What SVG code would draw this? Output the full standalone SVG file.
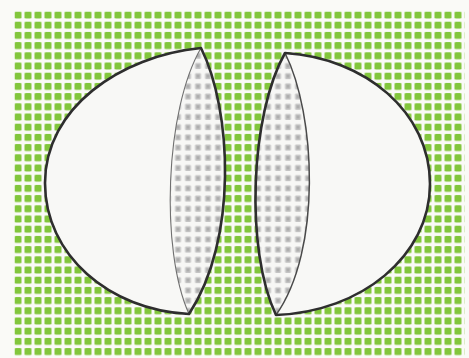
<svg xmlns="http://www.w3.org/2000/svg" width="469" height="358" viewBox="0 0 469 358">
  <defs>
    <pattern id="greenGrid" patternUnits="userSpaceOnUse" x="14.5" y="11.5" width="10" height="10.2">
      <rect x="0" y="0" width="7" height="7" rx="1.3" fill="#82c63c"/>
    </pattern>
    <pattern id="grayGrid" patternUnits="userSpaceOnUse" x="14.5" y="11.5" width="10" height="10.2">
      <rect x="0" y="0" width="10" height="10.2" fill="#f7f7f5"/>
      <rect x="0.5" y="0.5" width="6" height="6" rx="1.2" fill="#c4c4c4"/>
      <rect x="2" y="2" width="3" height="3" fill="#adadad"/>
    </pattern>
    <style>
      .shell { fill: #f8f8f6; stroke: none; }
      .lens { fill: url(#grayGrid); stroke: none; }
      .outline { fill: none; stroke: #2e2e2e; stroke-width: 2.6; stroke-linejoin: round; stroke-linecap: round; }
      .inner { fill: none; stroke: #707070; stroke-width: 1.1; }
    </style>
  </defs>

  <rect x="0" y="0" width="469" height="358" fill="#fafaf7"/>
  <rect x="14.5" y="11.5" width="450" height="346.5" fill="url(#greenGrid)"/>

  <g id="left-half">
    <path class="shell" d="M201,48 C120,56 45,108 45,183 C45,255 109,310 189,314 C238,240 232,110 201,48 Z"/>
    <path class="lens" d="M201,48 C165,110 160,250 189,314 C238,240 232,110 201,48 Z"/>
    <path class="inner" d="M201,48 C165,110 160,250 189,314"/>
    <path class="outline" d="M201,48 C120,56 45,108 45,183 C45,255 109,310 189,314 C238,240 232,110 201,48 Z"/>
  </g>

  <g id="right-half">
    <path class="shell" d="M285,53 C365,58 430,112 430,184 C430,256 361,312 276,315 C245,250 250,115 285,53 Z"/>
    <path class="lens" d="M285,53 C250,115 245,250 276,315 C322,250 316,115 285,53 Z"/>
    <path class="inner" style="stroke:#4a4a4a;stroke-width:1.5" d="M285,53 C316,115 322,250 276,315"/>
    <path class="outline" d="M285,53 C365,58 430,112 430,184 C430,256 361,312 276,315 C245,250 250,115 285,53 Z"/>
  </g>
</svg>
